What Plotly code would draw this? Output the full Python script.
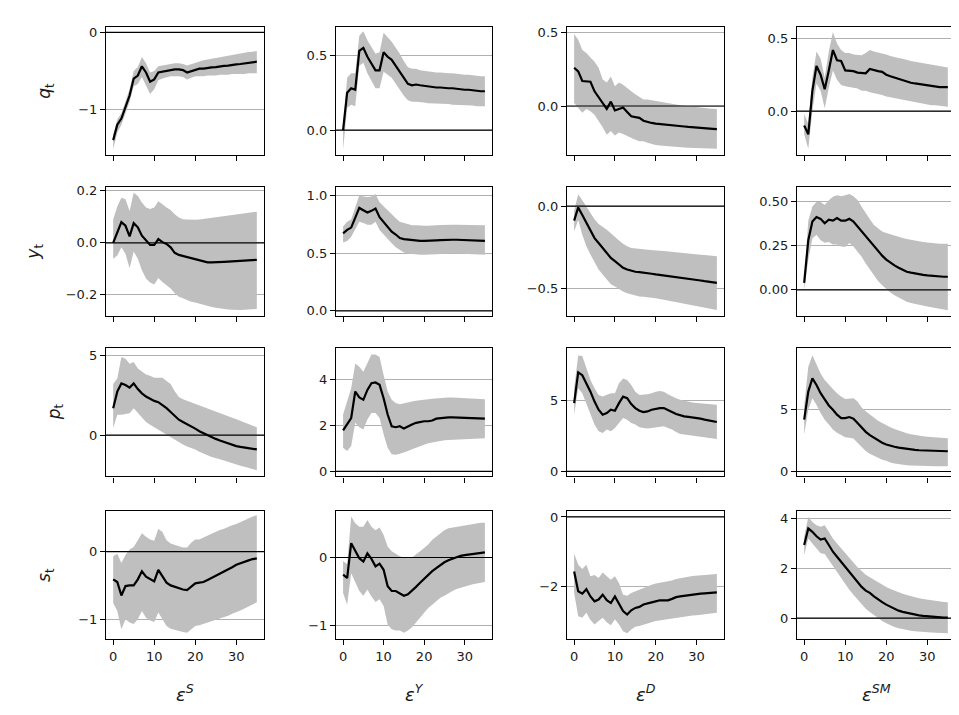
import plotly.graph_objects as go

horizon = list(range(36))
shock_labels = ["<i>ε</i><sup><i>S</i></sup>", "<i>ε</i><sup><i>Y</i></sup>",
                "<i>ε</i><sup><i>D</i></sup>", "<i>ε</i><sup><i>SM</i></sup>"]
var_labels = ["<i>q</i><sub>t</sub>", "<i>y</i><sub>t</sub>", "<i>p</i><sub>t</sub>", "<i>s</i><sub>t</sub>"]
x_ticks = [0, 10, 20, 30]

# ---- q_t ----
q_S_mean = [-1.40,-1.20,-1.12,-0.97,-0.82,-0.60,-0.56,-0.44,-0.52,-0.64,-0.61,-0.52,-0.51,-0.50,-0.49,-0.48,-0.48,-0.49,-0.52,-0.50,-0.48,-0.47,-0.47,-0.46,-0.455,-0.45,-0.44,-0.435,-0.43,-0.42,-0.415,-0.41,-0.40,-0.395,-0.39,-0.38]
q_S_upper = [-1.33,-1.13,-1.05,-0.90,-0.74,-0.50,-0.45,-0.32,-0.40,-0.52,-0.50,-0.44,-0.43,-0.42,-0.41,-0.40,-0.40,-0.41,-0.43,-0.41,-0.39,-0.37,-0.36,-0.35,-0.34,-0.33,-0.32,-0.31,-0.30,-0.29,-0.28,-0.27,-0.26,-0.255,-0.25,-0.24]
q_S_lower = [-1.52,-1.30,-1.20,-1.05,-0.90,-0.70,-0.67,-0.58,-0.70,-0.80,-0.74,-0.62,-0.60,-0.58,-0.57,-0.57,-0.57,-0.58,-0.61,-0.59,-0.57,-0.57,-0.57,-0.56,-0.56,-0.56,-0.55,-0.55,-0.55,-0.54,-0.54,-0.54,-0.54,-0.53,-0.53,-0.53]

q_Y_mean = [0.00,0.25,0.28,0.27,0.53,0.55,0.49,0.44,0.40,0.40,0.52,0.49,0.47,0.43,0.39,0.35,0.31,0.30,0.305,0.30,0.295,0.29,0.29,0.285,0.285,0.28,0.28,0.28,0.275,0.275,0.27,0.27,0.265,0.265,0.26,0.26]
q_Y_upper = [0.02,0.35,0.38,0.38,0.63,0.66,0.60,0.55,0.51,0.52,0.65,0.62,0.59,0.55,0.51,0.46,0.42,0.41,0.41,0.40,0.395,0.39,0.39,0.385,0.385,0.38,0.38,0.38,0.375,0.37,0.37,0.37,0.365,0.365,0.36,0.36]
q_Y_lower = [-0.13,0.15,0.17,0.16,0.43,0.45,0.38,0.33,0.28,0.28,0.39,0.37,0.35,0.31,0.27,0.23,0.20,0.19,0.19,0.19,0.185,0.18,0.18,0.18,0.175,0.175,0.175,0.17,0.17,0.17,0.165,0.165,0.165,0.16,0.16,0.16]

q_D_mean = [0.26,0.235,0.17,0.17,0.165,0.10,0.06,0.02,-0.02,0.03,-0.03,-0.02,-0.01,-0.04,-0.07,-0.075,-0.08,-0.10,-0.11,-0.115,-0.12,-0.122,-0.125,-0.127,-0.13,-0.133,-0.136,-0.139,-0.142,-0.145,-0.147,-0.149,-0.151,-0.153,-0.155,-0.157]
q_D_upper = [0.49,0.45,0.38,0.36,0.33,0.30,0.26,0.18,0.16,0.20,0.135,0.16,0.145,0.12,0.10,0.08,0.06,0.045,0.045,0.04,0.03,0.026,0.022,0.018,0.014,0.01,0.006,0.002,-0.002,-0.006,-0.009,-0.012,-0.014,-0.016,-0.018,-0.02]
q_D_lower = [0.02,-0.01,-0.045,-0.02,-0.035,-0.06,-0.10,-0.145,-0.195,-0.17,-0.20,-0.18,-0.19,-0.205,-0.22,-0.23,-0.24,-0.24,-0.25,-0.26,-0.265,-0.268,-0.271,-0.274,-0.276,-0.278,-0.28,-0.282,-0.283,-0.284,-0.285,-0.286,-0.287,-0.288,-0.289,-0.29]

q_SM_mean = [-0.10,-0.16,0.14,0.31,0.25,0.15,0.28,0.42,0.35,0.345,0.28,0.28,0.275,0.265,0.265,0.26,0.29,0.28,0.275,0.27,0.25,0.24,0.23,0.22,0.21,0.20,0.195,0.19,0.185,0.18,0.175,0.17,0.17,0.165,0.165,0.165]
q_SM_upper = [-0.02,-0.09,0.23,0.41,0.36,0.23,0.41,0.545,0.465,0.42,0.40,0.40,0.39,0.39,0.385,0.40,0.42,0.41,0.405,0.40,0.39,0.38,0.37,0.365,0.36,0.35,0.345,0.34,0.335,0.33,0.325,0.32,0.32,0.315,0.31,0.30]
q_SM_lower = [-0.16,-0.26,0.00,0.19,0.14,0.02,0.16,0.28,0.215,0.18,0.17,0.165,0.16,0.155,0.14,0.14,0.13,0.125,0.12,0.11,0.10,0.095,0.09,0.08,0.075,0.07,0.065,0.06,0.055,0.05,0.045,0.04,0.04,0.035,0.035,0.03]

# ---- y_t ----
y_S_mean = [0.0,0.043,0.08,0.066,0.025,0.076,0.06,0.028,0.009,-0.008,-0.008,0.015,0.003,-0.004,-0.017,-0.038,-0.046,-0.05,-0.055,-0.058,-0.063,-0.068,-0.072,-0.075,-0.075,-0.075,-0.074,-0.073,-0.072,-0.071,-0.070,-0.069,-0.068,-0.067,-0.066,-0.065]
y_S_upper = [0.09,0.14,0.174,0.168,0.123,0.193,0.18,0.155,0.136,0.13,0.136,0.16,0.149,0.136,0.127,0.11,0.098,0.091,0.09,0.089,0.089,0.09,0.092,0.094,0.096,0.098,0.1,0.102,0.104,0.106,0.108,0.11,0.112,0.114,0.117,0.12]
y_S_lower = [-0.061,-0.048,-0.017,-0.042,-0.097,-0.033,-0.061,-0.105,-0.137,-0.152,-0.16,-0.135,-0.15,-0.163,-0.175,-0.194,-0.207,-0.213,-0.22,-0.226,-0.229,-0.234,-0.238,-0.242,-0.246,-0.249,-0.252,-0.254,-0.256,-0.257,-0.258,-0.258,-0.257,-0.256,-0.255,-0.254]

y_Y_mean = [0.67,0.70,0.72,0.81,0.89,0.87,0.85,0.865,0.885,0.81,0.77,0.73,0.685,0.66,0.63,0.62,0.615,0.61,0.61,0.605,0.605,0.605,0.61,0.61,0.612,0.615,0.615,0.615,0.615,0.613,0.612,0.61,0.61,0.608,0.607,0.605]
y_Y_upper = [0.73,0.77,0.79,0.90,1.00,0.99,0.985,0.99,1.01,0.94,0.905,0.87,0.83,0.80,0.77,0.76,0.745,0.74,0.74,0.735,0.735,0.735,0.74,0.74,0.742,0.745,0.745,0.745,0.745,0.744,0.743,0.742,0.742,0.741,0.74,0.74]
y_Y_lower = [0.59,0.605,0.64,0.70,0.77,0.76,0.745,0.745,0.77,0.70,0.66,0.62,0.585,0.55,0.53,0.505,0.495,0.49,0.49,0.485,0.485,0.485,0.49,0.49,0.492,0.495,0.495,0.495,0.495,0.493,0.492,0.49,0.49,0.488,0.486,0.485]

y_D_mean = [-0.088,-0.008,-0.054,-0.104,-0.154,-0.194,-0.224,-0.254,-0.284,-0.314,-0.334,-0.354,-0.374,-0.384,-0.392,-0.398,-0.40,-0.402,-0.405,-0.41,-0.414,-0.417,-0.421,-0.424,-0.428,-0.431,-0.434,-0.438,-0.441,-0.445,-0.448,-0.451,-0.455,-0.458,-0.462,-0.465]
y_D_upper = [-0.028,0.072,0.036,-0.004,-0.044,-0.08,-0.108,-0.124,-0.144,-0.164,-0.188,-0.208,-0.228,-0.244,-0.254,-0.258,-0.26,-0.262,-0.265,-0.268,-0.268,-0.27,-0.272,-0.275,-0.277,-0.28,-0.282,-0.285,-0.287,-0.29,-0.292,-0.295,-0.297,-0.3,-0.302,-0.304]
y_D_lower = [-0.154,-0.084,-0.174,-0.244,-0.294,-0.344,-0.384,-0.414,-0.444,-0.474,-0.488,-0.504,-0.518,-0.528,-0.536,-0.544,-0.548,-0.55,-0.552,-0.555,-0.558,-0.563,-0.568,-0.573,-0.578,-0.583,-0.588,-0.593,-0.598,-0.603,-0.608,-0.613,-0.618,-0.622,-0.626,-0.63]

y_SM_mean = [0.04,0.28,0.385,0.41,0.40,0.375,0.395,0.39,0.405,0.39,0.39,0.40,0.385,0.357,0.33,0.30,0.273,0.245,0.217,0.193,0.171,0.152,0.138,0.125,0.112,0.102,0.097,0.092,0.088,0.085,0.082,0.079,0.077,0.075,0.074,0.074]
y_SM_upper = [0.06,0.39,0.47,0.495,0.495,0.478,0.505,0.524,0.533,0.528,0.533,0.54,0.528,0.506,0.468,0.43,0.398,0.366,0.348,0.329,0.32,0.312,0.305,0.298,0.292,0.287,0.282,0.278,0.274,0.27,0.267,0.264,0.262,0.26,0.26,0.26]
y_SM_lower = [0.0,0.17,0.29,0.31,0.28,0.265,0.27,0.255,0.255,0.245,0.242,0.264,0.245,0.217,0.186,0.149,0.115,0.082,0.05,0.026,0.004,-0.015,-0.03,-0.043,-0.056,-0.067,-0.074,-0.08,-0.085,-0.09,-0.094,-0.098,-0.102,-0.106,-0.110,-0.115]

# ---- p_t ----
p_S_mean = [1.69,2.73,3.24,3.14,2.98,3.24,2.89,2.62,2.42,2.27,2.15,2.07,1.90,1.69,1.45,1.18,0.97,0.83,0.70,0.56,0.41,0.25,0.12,0.0,-0.12,-0.23,-0.33,-0.43,-0.52,-0.60,-0.68,-0.73,-0.78,-0.82,-0.86,-0.89]
p_S_upper = [3.20,3.55,4.90,4.79,4.48,4.59,4.17,3.97,3.80,3.72,3.60,3.60,3.60,3.40,3.20,2.75,2.40,2.25,2.15,2.05,1.95,1.85,1.75,1.65,1.55,1.45,1.36,1.27,1.18,1.09,1.00,0.90,0.80,0.70,0.60,0.50]
p_S_lower = [0.45,1.28,1.28,1.32,1.38,1.69,1.38,1.07,0.83,0.66,0.50,0.35,0.21,0.04,-0.12,-0.27,-0.43,-0.58,-0.70,-0.79,-0.89,-1.03,-1.16,-1.26,-1.36,-1.45,-1.51,-1.58,-1.67,-1.74,-1.86,-1.92,-1.98,-2.05,-2.12,-2.20]

p_Y_mean = [1.78,2.04,2.32,3.47,3.21,3.11,3.54,3.83,3.86,3.76,3.18,2.47,1.96,1.92,1.96,1.86,1.96,2.04,2.11,2.15,2.18,2.18,2.21,2.29,2.32,2.35,2.35,2.35,2.34,2.34,2.33,2.32,2.31,2.30,2.30,2.29]
p_Y_upper = [2.47,3.04,3.61,4.69,4.54,4.33,4.69,5.08,5.08,4.97,4.19,3.47,3.11,2.97,2.92,2.97,3.01,3.04,3.07,3.10,3.11,3.13,3.15,3.17,3.18,3.21,3.21,3.21,3.20,3.19,3.18,3.17,3.16,3.15,3.14,3.13]
p_Y_lower = [1.03,0.89,1.10,2.11,1.92,1.82,2.25,2.54,2.54,2.32,1.61,1.03,0.75,0.72,0.77,0.82,0.89,0.96,1.03,1.08,1.18,1.22,1.26,1.30,1.33,1.35,1.37,1.38,1.39,1.40,1.41,1.42,1.43,1.43,1.44,1.44]

p_D_mean = [4.84,7.01,6.82,6.24,5.65,4.95,4.37,4.02,4.14,4.37,4.30,4.84,5.30,5.19,4.77,4.49,4.30,4.21,4.25,4.37,4.44,4.49,4.49,4.37,4.21,4.07,3.97,3.90,3.86,3.83,3.79,3.74,3.67,3.60,3.55,3.50]
p_D_upper = [5.89,8.22,8.18,7.29,6.47,5.89,5.42,5.30,5.42,5.54,5.54,6.24,6.59,6.47,6.12,5.65,5.42,5.42,5.47,5.54,5.65,5.70,5.65,5.47,5.30,5.19,5.07,5.00,4.91,4.88,4.84,4.82,4.80,4.78,4.76,4.72]
p_D_lower = [4.02,5.89,5.54,4.84,4.02,3.32,2.85,2.73,2.97,2.85,3.08,3.43,3.79,3.67,3.43,3.32,3.13,3.08,3.04,3.08,3.13,3.20,3.20,3.08,2.97,2.80,2.66,2.62,2.58,2.55,2.50,2.46,2.42,2.38,2.34,2.30]

p_SM_mean = [4.20,6.47,7.54,7.01,6.34,5.80,5.35,5.00,4.60,4.33,4.33,4.41,4.28,3.93,3.53,3.21,2.94,2.73,2.51,2.33,2.19,2.08,2.00,1.93,1.87,1.82,1.78,1.75,1.72,1.70,1.68,1.67,1.66,1.65,1.64,1.64]
p_SM_upper = [5.30,8.48,9.41,8.61,7.94,7.41,7.01,6.68,6.34,6.07,5.88,5.94,5.94,5.67,5.19,4.87,4.60,4.33,4.12,3.93,3.74,3.58,3.45,3.32,3.21,3.10,3.02,2.95,2.90,2.85,2.81,2.78,2.75,2.73,2.71,2.70]
p_SM_lower = [2.99,5.00,5.94,5.40,4.73,4.20,3.80,3.40,3.13,2.94,2.78,2.73,2.67,2.33,1.98,1.66,1.44,1.26,1.07,0.94,0.86,0.72,0.65,0.59,0.55,0.51,0.49,0.47,0.46,0.45,0.44,0.43,0.43,0.42,0.42,0.42]

# ---- s_t ----
s_S_mean = [-0.41,-0.45,-0.65,-0.51,-0.50,-0.50,-0.41,-0.29,-0.37,-0.41,-0.44,-0.27,-0.36,-0.46,-0.50,-0.52,-0.55,-0.56,-0.57,-0.52,-0.47,-0.46,-0.45,-0.42,-0.39,-0.36,-0.33,-0.29,-0.26,-0.23,-0.195,-0.17,-0.15,-0.13,-0.11,-0.10]
s_S_upper = [-0.07,-0.03,-0.17,-0.05,0.03,0.07,0.17,0.27,0.22,0.18,0.16,0.34,0.29,0.17,0.12,0.10,0.08,0.06,0.06,0.13,0.18,0.18,0.21,0.24,0.27,0.29,0.32,0.34,0.37,0.39,0.41,0.44,0.47,0.49,0.52,0.54]
s_S_lower = [-0.76,-0.88,-1.15,-1.00,-1.05,-1.07,-1.00,-0.88,-0.98,-1.02,-1.04,-0.90,-1.00,-1.10,-1.14,-1.16,-1.17,-1.19,-1.20,-1.15,-1.10,-1.09,-1.07,-1.05,-1.04,-1.01,-1.00,-0.97,-0.95,-0.92,-0.90,-0.87,-0.84,-0.81,-0.78,-0.75]

s_Y_mean = [-0.25,-0.30,0.21,0.09,-0.01,-0.06,0.06,-0.02,-0.13,-0.09,-0.18,-0.42,-0.49,-0.49,-0.52,-0.56,-0.54,-0.49,-0.43,-0.37,-0.31,-0.25,-0.20,-0.155,-0.11,-0.07,-0.04,-0.015,0.005,0.025,0.035,0.045,0.055,0.062,0.07,0.075]
s_Y_upper = [-0.05,-0.10,0.60,0.50,0.45,0.45,0.55,0.45,0.40,0.44,0.33,0.16,0.09,0.05,0.02,0.00,-0.01,0.00,0.04,0.09,0.14,0.19,0.26,0.31,0.36,0.40,0.43,0.44,0.46,0.47,0.48,0.49,0.50,0.50,0.51,0.51]
s_Y_lower = [-0.52,-0.69,-0.23,-0.37,-0.49,-0.56,-0.47,-0.57,-0.65,-0.61,-0.71,-0.98,-1.05,-1.07,-1.07,-1.10,-1.07,-1.02,-0.95,-0.88,-0.81,-0.74,-0.69,-0.64,-0.59,-0.56,-0.52,-0.49,-0.46,-0.44,-0.42,-0.40,-0.39,-0.38,-0.37,-0.36]

s_D_mean = [-1.57,-2.14,-2.21,-2.08,-2.29,-2.43,-2.38,-2.24,-2.40,-2.48,-2.29,-2.48,-2.71,-2.81,-2.69,-2.62,-2.59,-2.52,-2.48,-2.46,-2.43,-2.40,-2.40,-2.40,-2.36,-2.31,-2.29,-2.27,-2.26,-2.24,-2.22,-2.21,-2.20,-2.19,-2.18,-2.17]
s_D_upper = [-1.05,-1.38,-1.50,-1.38,-1.71,-1.67,-1.76,-1.60,-1.71,-1.81,-1.71,-1.90,-2.24,-2.27,-2.19,-2.14,-2.11,-2.05,-2.00,-1.95,-1.92,-1.90,-1.89,-1.86,-1.83,-1.79,-1.76,-1.74,-1.72,-1.70,-1.69,-1.68,-1.67,-1.66,-1.65,-1.64]
s_D_lower = [-2.19,-2.86,-2.90,-2.76,-2.97,-3.10,-3.00,-2.90,-3.03,-3.12,-2.95,-3.10,-3.29,-3.35,-3.24,-3.16,-3.14,-3.10,-3.05,-3.03,-3.00,-2.98,-2.97,-2.96,-2.93,-2.91,-2.89,-2.87,-2.85,-2.84,-2.83,-2.82,-2.81,-2.80,-2.79,-2.76]

s_SM_mean = [2.93,3.59,3.46,3.28,3.15,3.19,2.93,2.66,2.46,2.26,2.07,1.87,1.67,1.47,1.25,1.10,1.01,0.87,0.74,0.64,0.54,0.45,0.37,0.30,0.25,0.21,0.17,0.14,0.11,0.09,0.07,0.05,0.04,0.03,0.02,0.02]
s_SM_upper = [3.26,4.05,3.85,3.72,3.66,3.72,3.46,3.19,2.99,2.79,2.60,2.40,2.23,2.04,1.87,1.74,1.64,1.54,1.43,1.34,1.25,1.17,1.10,1.03,0.98,0.93,0.88,0.84,0.80,0.77,0.74,0.71,0.69,0.67,0.65,0.64]
s_SM_lower = [2.53,3.19,2.99,2.79,2.60,2.57,2.33,2.07,1.83,1.60,1.38,1.14,0.94,0.74,0.54,0.37,0.24,0.11,-0.01,-0.12,-0.21,-0.29,-0.36,-0.41,-0.45,-0.49,-0.51,-0.53,-0.55,-0.56,-0.57,-0.58,-0.59,-0.60,-0.61,-0.61]

# y tick values per panel (row-major)
y_ticks = [
    [-1, 0], [0.0, 0.5], [0.0, 0.5], [0.0, 0.5],
    [-0.2, 0.0, 0.2], [0.0, 0.5, 1.0], [-0.5, 0.0], [0.0, 0.25, 0.5],
    [0, 5], [0, 2, 4], [0, 5], [0, 5],
    [-1, 0], [-1, 0], [-2, 0], [0, 2, 4],
]
y_decimals = [0, 1, 1, 1, 1, 1, 1, 2, 0, 0, 0, 0, 0, 0, 0, 0]

panels = [
    (q_S_mean, q_S_lower, q_S_upper), (q_Y_mean, q_Y_lower, q_Y_upper),
    (q_D_mean, q_D_lower, q_D_upper), (q_SM_mean, q_SM_lower, q_SM_upper),
    (y_S_mean, y_S_lower, y_S_upper), (y_Y_mean, y_Y_lower, y_Y_upper),
    (y_D_mean, y_D_lower, y_D_upper), (y_SM_mean, y_SM_lower, y_SM_upper),
    (p_S_mean, p_S_lower, p_S_upper), (p_Y_mean, p_Y_lower, p_Y_upper),
    (p_D_mean, p_D_lower, p_D_upper), (p_SM_mean, p_SM_lower, p_SM_upper),
    (s_S_mean, s_S_lower, s_S_upper), (s_Y_mean, s_Y_lower, s_Y_upper),
    (s_D_mean, s_D_lower, s_D_upper), (s_SM_mean, s_SM_lower, s_SM_upper),
]

# ---- layout geometry (pixels) ----
W, H = 959, 715
col_px = [(98, 256), (328, 484), (559, 716), (789, 947)]
row_px = [(15, 144), (177, 307), (339.5, 469), (504, 633)]
y_ranges = [
    [-1.588, 0.073], [-0.163, 0.69], [-0.33, 0.538], [-0.30, 0.58],
    [-0.281, 0.214], [-0.045, 1.069], [-0.666, 0.114], [-0.147, 0.578],
    [-2.58, 5.45], [-0.215, 5.35], [-0.35, 8.73], [-0.40, 9.99],
    [-1.29, 0.60], [-1.19, 0.68], [-3.51, 0.17], [-0.83, 4.29],
]


def fmt(v, d):
    s = f"{abs(v):.{d}f}"
    return ("\u2212" + s) if v < 0 else s


FONT = "DejaVu Sans"
TXT = "#1a1a1a"
fig = go.Figure()
layout = dict(width=W, height=H, margin=dict(l=0, r=0, t=0, b=0),
              plot_bgcolor="white", paper_bgcolor="white", showlegend=False,
              font=dict(family=FONT, size=13, color=TXT))
shapes = []
annotations = []

for k, (mean, lower, upper) in enumerate(panels):
    r, c = divmod(k, 4)
    idx = k + 1
    xa = "x" if idx == 1 else f"x{idx}"
    ya = "y" if idx == 1 else f"y{idx}"
    fig.add_trace(go.Scatter(x=horizon, y=lower, xaxis=xa, yaxis=ya, mode="lines",
                             line=dict(width=0, color="#bfbfbf"), hoverinfo="skip"))
    fig.add_trace(go.Scatter(x=horizon, y=upper, xaxis=xa, yaxis=ya, mode="lines",
                             line=dict(width=0, color="#bfbfbf"), fill="tonexty",
                             fillcolor="#bfbfbf", hoverinfo="skip"))
    fig.add_trace(go.Scatter(x=horizon, y=mean, xaxis=xa, yaxis=ya, mode="lines",
                             line=dict(width=2.2, color="black")))
    x0, x1 = col_px[c]
    yt, yb = row_px[r]
    axis_common = dict(showline=True, mirror=True, linecolor="black", linewidth=1.2,
                       ticks="outside", ticklen=5, tickwidth=1.2, tickcolor="black",
                       zeroline=False, tickfont=dict(family=FONT, size=13, color=TXT))
    layout[f"xaxis{idx}" if idx > 1 else "xaxis"] = dict(
        domain=[x0 / W, x1 / W], anchor=ya, range=[-1.75, 36.75],
        tickmode="array", tickvals=x_ticks,
        ticktext=[str(t) for t in x_ticks],
        showticklabels=(r == 3),
        showgrid=False, **axis_common)
    tv = y_ticks[k]
    layout[f"yaxis{idx}" if idx > 1 else "yaxis"] = dict(
        domain=[1 - yb / H, 1 - yt / H], anchor=xa, range=y_ranges[k],
        tickmode="array", tickvals=tv, ticktext=[fmt(v, y_decimals[k]) for v in tv],
        showgrid=True, gridcolor="#b0b0b0", gridwidth=1, **axis_common)
    shapes.append(dict(type="line", xref=f"{xa} domain", yref=ya, x0=0, x1=1, y0=0, y1=0,
                       line=dict(color="black", width=1.2), layer="above"))

ylab_x = [38, 27, 47, 38]
for r in range(4):
    yt, yb = row_px[r]
    annotations.append(dict(text=var_labels[r], x=ylab_x[r] / W, y=1 - (yt + yb) / 2 / H,
                            xref="paper", yref="paper", showarrow=False, textangle=-90,
                            font=dict(family=FONT, size=17, color=TXT),
                            xanchor="center", yanchor="middle"))
for c in range(4):
    x0, x1 = col_px[c]
    annotations.append(dict(text=shock_labels[c], x=(x0 + x1) / 2 / W, y=1 - 688 / H,
                            xref="paper", yref="paper", showarrow=False,
                            font=dict(family=FONT, size=18, color=TXT),
                            xanchor="center", yanchor="middle"))

layout["shapes"] = shapes
layout["annotations"] = annotations
fig.update_layout(**layout)
fig.write_html("out.html")
